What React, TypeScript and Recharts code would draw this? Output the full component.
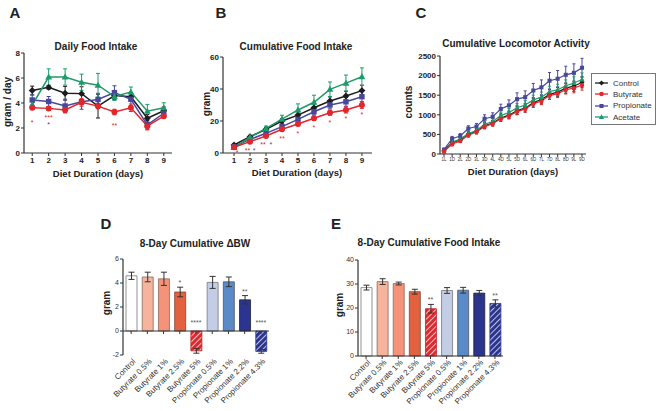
import React from 'react';
import {
  LineChart, Line, BarChart, Bar, XAxis, YAxis, ErrorBar, ReferenceDot, ReferenceLine, Cell,
} from 'recharts';

const seriesNames = ['Control', 'Butyrate', 'Propionate', 'Acetate'];
const days = [1, 2, 3, 4, 5, 6, 7, 8, 9];

// A - daily food intake (gram / day)
const dailyControl = [5.0, 5.25, 4.78, 4.75, 3.75, 4.6, 4.5, 2.78, 3.38];
const dailyButyrate = [3.62, 3.57, 3.45, 4.05, 3.75, 3.28, 3.62, 2.15, 2.95];
const dailyPropionate = [4.24, 4.12, 3.76, 4.1, 4.28, 4.83, 4.3, 2.25, 3.18];
const dailyAcetate = [3.84, 6.08, 6.08, 5.66, 5.42, 4.52, 4.88, 3.34, 3.62];
const dailyControlErr = [0.35, 0.15, 0.55, 0.55, 0.95, 0.35, 0.25, 0.3, 0.3];
const dailyButyrateErr = [0.15, 0.12, 0.2, 0.3, 0.2, 0.22, 0.3, 0.3, 0.15];
const dailyPropionateErr = [0.4, 0.4, 0.55, 0.6, 0.5, 0.55, 0.5, 0.35, 0.25];
const dailyAcetateErr = [0.35, 0.65, 0.65, 0.65, 0.95, 0.3, 0.4, 0.55, 0.4];
const dailyStars = [
  { day: 1, y: 2.45, text: '*', series: 'Butyrate' },
  { day: 2, y: 2.85, text: '***', series: 'Butyrate' },
  { day: 2, y: 2.25, text: '*', series: 'Propionate' },
  { day: 6, y: 2.2, text: '**', series: 'Butyrate' },
];

// B - cumulative food intake (gram)
const cumControl = [5, 10.2, 14.8, 20, 23.7, 28.3, 32.5, 35.6, 39];
const cumButyrate = [3.6, 7.1, 10.6, 14.8, 18.1, 21.7, 25.2, 26.9, 30];
const cumPropionate = [4, 8.5, 12.3, 16.5, 21, 25.8, 30, 32, 35.2];
const cumAcetate = [3.5, 9.8, 15.4, 21.2, 26.9, 31.7, 39.8, 43.7, 47.7];
const cumControlErr = [0.6, 0.8, 1, 1.4, 2, 2.4, 2.6, 3, 3.4];
const cumButyrateErr = [0.4, 0.6, 0.8, 1, 1.1, 1.4, 1.6, 1.9, 2.1];
const cumPropionateErr = [0.5, 0.8, 1, 1.4, 1.8, 2, 2.4, 2.8, 3.2];
const cumAcetateErr = [0.5, 1, 1.4, 2.4, 3.8, 4.4, 4.6, 5, 5.5];
const cumStars = [
  { day: 1.19, y: 0.2, text: '*', series: 'Butyrate' },
  { day: 1.84, y: 1.5, text: '**', series: 'Butyrate' },
  { day: 2.25, y: 1.5, text: '*', series: 'Propionate' },
  { day: 2.81, y: 5.2, text: '**', series: 'Butyrate' },
  { day: 3.31, y: 5.2, text: '*', series: 'Propionate' },
  { day: 4, y: 9, text: '**', series: 'Butyrate' },
  { day: 5, y: 12, text: '*', series: 'Butyrate' },
  { day: 6, y: 16, text: '*', series: 'Butyrate' },
  { day: 7, y: 19, text: '*', series: 'Butyrate' },
  { day: 8, y: 21.5, text: '*', series: 'Butyrate' },
  { day: 9, y: 24, text: '*', series: 'Butyrate' },
];

// C - cumulative locomotor activity (counts), light / dark phases
const phases = ['1L', '1D', '2L', '2D', '3L', '3D', '4L', '4D', '5L', '5D', '6L', '6D', '7L', '7D', '8L', '8D', '9L', '9D'];
const locoControl = [90, 290, 360, 510, 580, 720, 790, 920, 990, 1110, 1170, 1310, 1390, 1520, 1580, 1680, 1730, 1830];
const locoButyrate = [70, 250, 330, 480, 560, 700, 770, 900, 970, 1080, 1150, 1280, 1350, 1490, 1540, 1640, 1680, 1760];
const locoPropionate = [110, 390, 460, 650, 700, 900, 950, 1150, 1240, 1400, 1450, 1620, 1700, 1870, 1920, 2020, 2070, 2200];
const locoAcetate = [50, 300, 380, 520, 600, 760, 830, 980, 1060, 1180, 1250, 1380, 1450, 1590, 1640, 1740, 1810, 1900];
const locoControlErr = [30, 50, 50, 60, 60, 70, 70, 80, 90, 100, 100, 110, 110, 120, 120, 130, 130, 140];
const locoButyrateErr = [30, 40, 40, 50, 50, 60, 60, 70, 70, 80, 80, 90, 90, 100, 100, 110, 120, 130];
const locoPropionateErr = [40, 60, 60, 70, 80, 100, 100, 120, 140, 160, 160, 180, 190, 210, 210, 220, 230, 240];
const locoAcetateErr = [30, 50, 50, 60, 60, 70, 80, 90, 100, 110, 110, 120, 130, 140, 140, 150, 160, 170];

// D / E - groups
const groups = ['Control', 'Butyrate 0.5%', 'Butyrate 1%', 'Butyrate 2.5%', 'Butyrate 5%',
  'Propionate 0.5%', 'Propionate 1%', 'Propionate 2.2%', 'Propionate 4.3%'];
const bwChange = [4.6, 4.5, 4.35, 3.25, -1.65, 4.05, 4.1, 2.6, -1.7];
const bwErr = [0.3, 0.4, 0.55, 0.4, 0.2, 0.5, 0.4, 0.35, 0.15];
const bwSig = ['', '', '', '*', '****', '', '', '**', '****'];
const foodTotal = [28.5, 31, 30.2, 26.8, 19.7, 27.3, 27.4, 26.2, 21.9];
const foodErr = [1, 1.2, 0.6, 1, 1.8, 1.2, 1.2, 1.1, 1.5];
const foodSig = ['', '', '', '', '**', '', '', '', '**'];

const colors: Record<string, string> = {
  Control: '#1c1c1c', Butyrate: '#e2262b', Propionate: '#48479a', Acetate: '#1e9a6b',
};
const shapes: Record<string, string> = {
  Control: 'diamond', Butyrate: 'circle', Propionate: 'square', Acetate: 'triangle',
};
const drawOrder = ['Control', 'Propionate', 'Acetate', 'Butyrate'];
const groupFill = ['#ffffff', '#f6b49d', '#f4937a', '#e2613f', 'hatchRed', '#c3cde6', '#5a8bc8', '#2b3590', 'hatchBlue'];
const groupStroke = ['#777', '#8a6a60', '#8a6a60', '#7a4a3a', '#c0202a', '#777', '#555', '#222', '#2b3590'];

const FONT = '"Liberation Sans", Arial, sans-serif';
const AXIS = '#333';

const buildRows = (key: string, xs: (number | string)[], values: number[][], errs: number[][]) =>
  xs.map((x, i) => {
    const row: Record<string, number | string> = { [key]: x };
    seriesNames.forEach((n, k) => {
      row[n] = values[k][i];
      row[`${n}Err`] = errs[k][i];
    });
    return row;
  });

const dailyRows = buildRows('day', days,
  [dailyControl, dailyButyrate, dailyPropionate, dailyAcetate],
  [dailyControlErr, dailyButyrateErr, dailyPropionateErr, dailyAcetateErr]);
const cumRows = buildRows('day', days,
  [cumControl, cumButyrate, cumPropionate, cumAcetate],
  [cumControlErr, cumButyrateErr, cumPropionateErr, cumAcetateErr]);
const locoRows = buildRows('phase', phases,
  [locoControl, locoButyrate, locoPropionate, locoAcetate],
  [locoControlErr, locoButyrateErr, locoPropionateErr, locoAcetateErr]);
const bwRows = groups.map((g, i) => ({ group: g, value: bwChange[i], err: bwErr[i], sig: bwSig[i] }));
const foodRows = groups.map((g, i) => ({ group: g, value: foodTotal[i], err: foodErr[i], sig: foodSig[i] }));

const Marker = ({ cx, cy, shape, color, size }: any) => {
  if (cx == null || cy == null) return null;
  const h = size / 2;
  if (shape === 'circle') return <circle cx={cx} cy={cy} r={h} fill={color} />;
  if (shape === 'square') return <rect x={cx - h * 0.9} y={cy - h * 0.9} width={h * 1.8} height={h * 1.8} fill={color} />;
  if (shape === 'diamond') {
    return <polygon points={`${cx},${cy - h * 1.15} ${cx + h * 1.15},${cy} ${cx},${cy + h * 1.15} ${cx - h * 1.15},${cy}`} fill={color} />;
  }
  return <polygon points={`${cx},${cy - h * 1.2} ${cx + h * 1.15},${cy + h * 0.85} ${cx - h * 1.15},${cy + h * 0.85}`} fill={color} />;
};

const seriesLines = (size: number, sw: number, cap: number) =>
  drawOrder.map((name) => (
    <Line
      key={name}
      dataKey={name}
      type="linear"
      stroke={colors[name]}
      strokeWidth={sw}
      isAnimationActive={false}
      activeDot={false}
      dot={(p: any) => (
        <Marker key={`${name}-${p.index}`} cx={p.cx} cy={p.cy} shape={shapes[name]} color={colors[name]} size={size} />
      )}
    >
      <ErrorBar dataKey={`${name}Err`} width={cap} stroke={colors[name]} strokeWidth={1} direction="y" isAnimationActive={false} />
    </Line>
  ));

const Txt = ({ x, y, size = 10, bold = true, rotate = 0, color = '#222', children }: any) => (
  <div
    style={{
      position: 'absolute', left: x, top: y, transform: `translate(-50%, -50%) rotate(${rotate}deg)`,
      fontSize: size, fontWeight: bold ? 'bold' : 'normal', color, whiteSpace: 'nowrap', lineHeight: 1,
    }}
  >
    {children}
  </div>
);

const tickStyle = { fontSize: 8, fill: '#222', fontWeight: 'bold' };

const GroupTick = ({ x, y, payload, zeroOffset }: any) => (
  <g>
    <line x1={x} x2={x} y1={y - zeroOffset} y2={y - zeroOffset + 3} stroke={AXIS} strokeWidth={1} />
    <text
      x={x + 3}
      y={y + 5}
      transform={`rotate(-45 ${x + 3} ${y + 5})`}
      textAnchor="end"
      dy="0.35em"
      fontSize={8}
      fill="#333"
    >
      {payload.value}
    </text>
  </g>
);

const Hatch = ({ id, color }: any) => (
  <pattern id={id} patternUnits="userSpaceOnUse" width={4} height={4} patternTransform="rotate(45)">
    <rect width={4} height={4} fill={color} />
    <line x1={0} y1={0} x2={0} y2={4} stroke="#ffffff" strokeWidth={1.4} />
  </pattern>
);

const GroupBars = ({ rows, yDomain, yTicks, prefix, zeroAxis }: any) => {
  const plotH = 96;
  const zeroOffset = zeroAxis ? (plotH * (0 - yDomain[0])) / (yDomain[1] - yDomain[0]) : 0;
  return (
    <BarChart
      width={180}
      height={165}
      data={rows}
      margin={prefix === 'd' ? { top: 14, right: 6, bottom: 5, left: 6 } : { top: 15, right: 7, bottom: 4, left: 8 }}
      barSize={11}
    >
      <defs>
        <Hatch id={`${prefix}hatchRed`} color="#dc2a30" />
        <Hatch id={`${prefix}hatchBlue`} color="#2b3590" />
      </defs>
      <XAxis
        dataKey="group"
        type="category"
        interval={0}
        height={50}
        tickSize={0}
        tickMargin={0}
        tickLine={false}
        axisLine={zeroAxis ? false : { stroke: AXIS, strokeWidth: 1.2 }}
        tick={(p: any) => <GroupTick key={p.index} {...p} zeroOffset={zeroOffset} />}
      />
      <YAxis
        width={prefix === 'd' ? 22 : 20}
        domain={yDomain}
        ticks={yTicks}
        tickSize={3}
        tickMargin={1}
        axisLine={{ stroke: AXIS, strokeWidth: 1.2 }}
        tickLine={{ stroke: AXIS }}
        tick={{ fontSize: 7, fill: '#333' }}
      />
      {zeroAxis && <ReferenceLine y={0} stroke={AXIS} strokeWidth={1.2} />}
      <Bar dataKey="value" isAnimationActive={false} strokeWidth={0.8}>
        {rows.map((r: any, i: number) => (
          <Cell
            key={r.group}
            fill={groupFill[i].startsWith('#') ? groupFill[i] : `url(#${prefix}${groupFill[i]})`}
            stroke={groupStroke[i]}
          />
        ))}
        <ErrorBar dataKey="err" width={3} stroke="#333" strokeWidth={1} direction="y" isAnimationActive={false} />
      </Bar>
      {rows.filter((r: any) => r.sig).map((r: any) => (
        <ReferenceDot
          key={`sig-${r.group}`}
          x={r.group}
          y={r.value > 0 ? r.value + r.err : 0}
          r={1}
          fill="none"
          stroke="none"
          ifOverflow="visible"
          label={{ value: r.sig, position: 'top', offset: r.value > 0 ? 1 : 5, fontSize: 7, fill: '#555' }}
        />
      ))}
    </BarChart>
  );
};

export default function App() {
  return (
    <div style={{ position: 'relative', width: 662, height: 411, background: '#fff', fontFamily: FONT, overflow: 'hidden' }}>
      <style>{'body{margin:0}'}</style>

      {/* A */}
      <div style={{ position: 'absolute', left: 0, top: 40 }}>
        <LineChart width={180} height={140} data={dailyRows} margin={{ top: 13, right: 8, bottom: 7, left: 4 }}>
          <XAxis
            dataKey="day" type="number" domain={[0.5, 9.5]} ticks={days} allowDataOverflow height={20}
            tickSize={3} tickMargin={1} axisLine={{ stroke: AXIS, strokeWidth: 1.2 }} tickLine={{ stroke: AXIS }} tick={tickStyle}
          />
          <YAxis
            width={20} domain={[0, 8]} ticks={[0, 2, 4, 6, 8]} tickSize={3} tickMargin={1}
            axisLine={{ stroke: AXIS, strokeWidth: 1.2 }} tickLine={{ stroke: AXIS }} tick={tickStyle}
          />
          {seriesLines(6, 1.5, 2)}
          {dailyStars.map((s, i) => (
            <ReferenceDot
              key={`a${i}`} x={s.day} y={s.y} r={1} fill="none" stroke="none" ifOverflow="visible"
              label={{ value: s.text, position: 'center', fontSize: 7, fill: colors[s.series] }}
            />
          ))}
        </LineChart>
      </div>

      {/* B */}
      <div style={{ position: 'absolute', left: 195, top: 40 }}>
        <LineChart width={185} height={140} data={cumRows} margin={{ top: 17, right: 8, bottom: 7, left: 8 }}>
          <XAxis
            dataKey="day" type="number" domain={[0.31, 9.63]} ticks={days} allowDataOverflow height={20}
            tickSize={3} tickMargin={1} axisLine={{ stroke: AXIS, strokeWidth: 1.2 }} tickLine={{ stroke: AXIS }} tick={tickStyle}
          />
          <YAxis
            width={20} domain={[0, 60]} ticks={[0, 20, 40, 60]} tickSize={3} tickMargin={1}
            axisLine={{ stroke: AXIS, strokeWidth: 1.2 }} tickLine={{ stroke: AXIS }} tick={tickStyle}
          />
          {seriesLines(6, 1.5, 2)}
          {cumStars.map((s, i) => (
            <ReferenceDot
              key={`b${i}`} x={s.day} y={s.y} r={1} fill="none" stroke="none" ifOverflow="visible"
              label={{ value: s.text, position: 'center', fontSize: 7, fill: colors[s.series] }}
            />
          ))}
        </LineChart>
      </div>

      {/* C */}
      <div style={{ position: 'absolute', left: 400, top: 40 }}>
        <LineChart width={190} height={140} data={locoRows} margin={{ top: 16, right: 4, bottom: 6, left: 12 }}>
          <XAxis
            dataKey="phase" type="category" interval={0} padding={{ left: 4, right: 4 }} height={20}
            tickSize={3} tickMargin={1} axisLine={{ stroke: AXIS, strokeWidth: 1.2 }} tickLine={{ stroke: AXIS }}
            tick={{ fontSize: 4.5, fill: '#333' }}
          />
          <YAxis
            width={28} domain={[0, 2500]} ticks={[0, 500, 1000, 1500, 2000, 2500]} tickSize={3} tickMargin={1}
            axisLine={{ stroke: AXIS, strokeWidth: 1.2 }} tickLine={{ stroke: AXIS }} tick={tickStyle}
          />
          {seriesLines(4.5, 1.2, 1.5)}
        </LineChart>
      </div>

      {/* legend for C */}
      <div style={{ position: 'absolute', left: 591, top: 73, width: 65, height: 52, border: '1px solid #777', boxSizing: 'border-box' }}>
        {seriesNames.map((n, i) => (
          <div key={n} style={{ position: 'absolute', left: 3, top: 4 + i * 11.4, height: 10, display: 'flex', alignItems: 'center' }}>
            <svg width={13} height={10}>
              <line x1={0} x2={13} y1={5} y2={5} stroke={colors[n]} strokeWidth={1.3} />
              <Marker cx={6.5} cy={5} shape={shapes[n]} color={colors[n]} size={4.5} />
            </svg>
            <span style={{ fontSize: 8, color: '#333', marginLeft: 5 }}>{n}</span>
          </div>
        ))}
      </div>

      {/* D */}
      <div style={{ position: 'absolute', left: 95, top: 245 }}>
        <GroupBars rows={bwRows} yDomain={[-2, 6]} yTicks={[-2, 0, 2, 4, 6]} prefix="d" zeroAxis />
      </div>

      {/* E */}
      <div style={{ position: 'absolute', left: 330, top: 245 }}>
        <GroupBars rows={foodRows} yDomain={[0, 40]} yTicks={[0, 10, 20, 30, 40]} prefix="e" zeroAxis={false} />
      </div>

      {/* panel letters */}
      <Txt x={15} y={12} size={15}>A</Txt>
      <Txt x={221} y={12} size={15}>B</Txt>
      <Txt x={421} y={12} size={15}>C</Txt>
      <Txt x={106} y={223} size={15}>D</Txt>
      <Txt x={336} y={223} size={15}>E</Txt>

      {/* titles */}
      <Txt x={96} y={47}>Daily Food Intake</Txt>
      <Txt x={296} y={47}>Cumulative Food Intake</Txt>
      <Txt x={516} y={44}>Cumulative Locomotor Activity</Txt>
      <Txt x={195} y={244}>8-Day Cumulative ΔBW</Txt>
      <Txt x={429} y={243}>8-Day Cumulative Food Intake</Txt>

      {/* axis labels */}
      <Txt x={98} y={174} size={9.5}>Diet Duration (days)</Txt>
      <Txt x={297} y={173} size={9.5}>Diet Duration (days)</Txt>
      <Txt x={513} y={172} size={9.5}>Diet Duration (days)</Txt>
      <Txt x={8} y={102} rotate={-90}>gram / day</Txt>
      <Txt x={207} y={104} rotate={-90}>gram</Txt>
      <Txt x={409} y={102} rotate={-90}>counts</Txt>
      <Txt x={107} y={303} rotate={-90}>gram</Txt>
      <Txt x={340} y={305} rotate={-90}>gram</Txt>
    </div>
  );
}
